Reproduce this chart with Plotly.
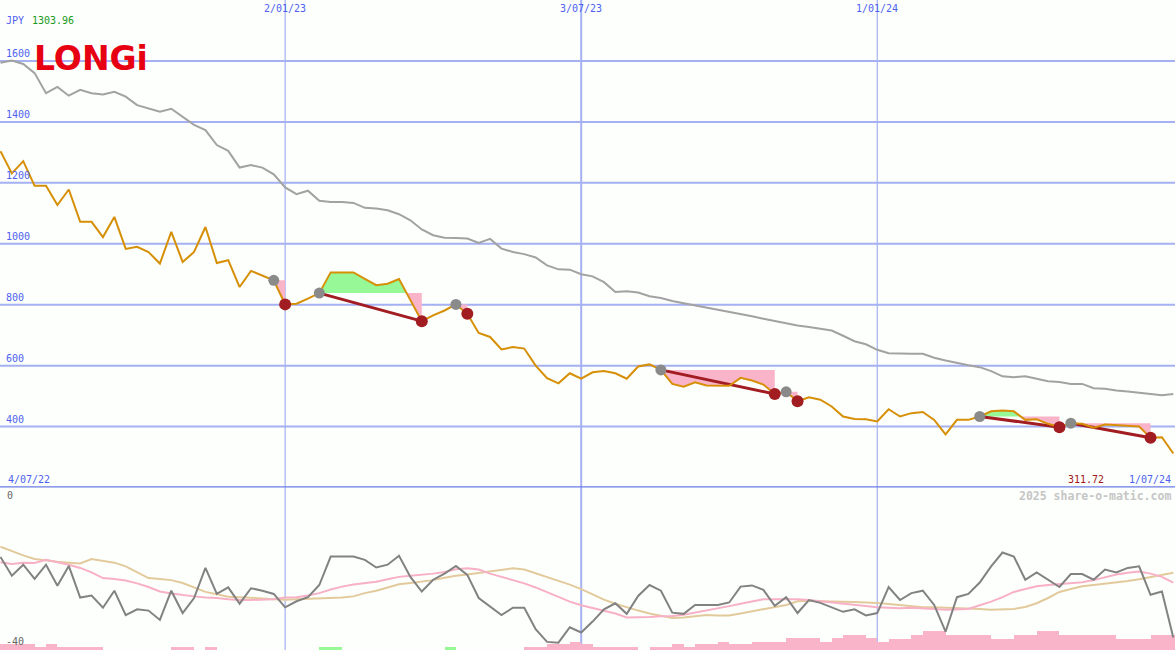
import pandas as pd
import plotly.graph_objects as go

# ---------------- data ----------------
dates = pd.date_range("2022-07-11", periods=104, freq="7D")

price = [1303.96, 1231, 1271, 1190, 1190, 1127, 1178, 1072, 1072, 1022,
         1088, 983, 990, 973, 935, 1039, 940, 973, 1055, 937,
         946, 858, 911, 896, 880, 801, 803, 820, 838, 906,
         906, 906, 885, 864, 869, 884, 815, 746, 765, 781,
         801, 770, 707, 694, 653, 661, 656, 600, 559, 542,
         575, 557, 578, 582, 575, 557, 597, 604, 586, 540,
         531, 545, 535, 535, 534, 560, 551, 538, 507, 514,
         483, 496, 488, 466, 433, 425, 424, 417, 457, 433,
         444, 448, 422, 374, 422, 422, 433, 450, 453, 450,
         422, 424, 409, 398, 411, 409, 396, 407, 405, 403,
         400, 363, 365, 311.72]

ma = [1594, 1601, 1590, 1560, 1494, 1515, 1486, 1505, 1494, 1490,
      1499, 1483, 1455, 1444, 1433, 1443, 1417, 1390, 1373, 1324,
      1305, 1250, 1258, 1250, 1228, 1185, 1163, 1174, 1141, 1137,
      1137, 1134, 1118, 1116, 1110, 1097, 1077, 1047, 1028, 1020,
      1019, 1017, 1003, 1016, 984, 973, 966, 955, 929, 916,
      915, 900, 893, 874, 842, 844, 840, 828, 822, 812,
      805, 798, 790, 785, 778, 771, 762, 754, 746, 738,
      732, 727, 722, 715, 698, 680, 670, 652, 641, 639,
      639, 639, 626, 617, 608, 601, 595, 582, 565, 562,
      565, 557, 549, 546, 540, 540, 526, 524, 518, 515,
      511, 505, 503, 507]

osc = [-17.1, -21.7, -19.0, -22.5, -19.0, -24.2, -19.3, -27.1, -26.6, -29.6,
       -25.4, -31.4, -30.0, -30.3, -32.6, -25.4, -30.9, -27.2, -19.8, -26.2,
       -24.6, -28.6, -24.8, -25.4, -26.2, -29.5, -28.0, -27.0, -24.0, -17.0,
       -17.0, -17.0, -17.8, -19.7, -19.0, -16.8, -22.0, -25.6, -22.7, -21.2,
       -19.3, -21.5, -27.2, -29.3, -31.4, -29.6, -29.6, -34.9, -38.0, -38.2,
       -34.4, -35.7, -33.0, -30.0, -28.5, -31.1, -26.7, -24.0, -25.4, -30.8,
       -31.1, -28.9, -28.9, -28.9, -28.3, -24.4, -24.1, -25.2, -29.1, -27.0,
       -30.9, -27.7, -28.4, -29.5, -30.6, -30.0, -31.5, -30.9, -24.5, -27.7,
       -26.0, -25.4, -28.9, -35.5, -27.0, -26.2, -23.4, -19.4, -16.0, -17.0,
       -22.7, -20.9, -22.7, -24.5, -21.3, -21.3, -22.7, -20.2, -20.9, -19.8,
       -19.4, -26.4, -25.6, -36.9]

osc_pink = [-18.4, -18.8, -18.5, -18.6, -17.8, -18.4, -19.0, -19.8, -20.9, -22.3,
            -22.5, -22.9, -23.6, -24.5, -25.6, -26.1, -26.5, -26.8, -27.1, -27.2,
            -27.5, -27.7, -27.7, -27.6, -27.5, -27.1, -27.0, -26.6, -26.0, -25.1,
            -24.4, -23.9, -23.6, -23.2, -22.6, -22.0, -21.7, -21.5, -21.2, -20.8,
            -20.1, -19.9, -20.2, -21.2, -22.0, -22.7, -23.6, -24.6, -25.8, -27.0,
            -28.1, -29.0, -29.7, -30.3, -31.0, -32.0, -32.0, -31.9, -31.7, -31.6,
            -31.3, -30.8, -30.3, -29.8, -29.2, -28.6, -28.0, -27.5, -27.5, -27.5,
            -27.5, -27.7, -28.0, -28.3, -28.6, -28.9, -29.2, -29.5, -29.6, -29.7,
            -29.6, -29.7, -29.9, -30.1, -30.0, -29.9, -29.0, -28.1, -27.0, -25.7,
            -25.0, -24.3, -24.0, -23.8, -23.5, -23.3, -22.8, -22.1, -21.4, -21.0,
            -20.7, -21.2, -22.0, -23.4]

osc_tan = [-14.6, -15.7, -16.7, -17.6, -18.0, -18.3, -18.5, -18.7, -17.6, -18.0,
           -18.5, -19.4, -20.9, -22.3, -22.5, -22.8, -23.5, -24.7, -25.7, -26.3,
           -26.9, -27.0, -27.1, -27.3, -27.5, -27.6, -27.5, -27.4, -27.3, -27.2,
           -27.1, -26.8, -26.0, -25.4, -24.6, -23.8, -23.5, -23.2, -22.8, -22.2,
           -21.7, -21.4, -21.0, -20.6, -20.2, -19.9, -20.2, -21.1, -22.1, -22.9,
           -23.9, -25.0, -26.4, -27.6, -28.6, -29.5, -30.3, -31.0, -31.6, -32.1,
           -32.0, -31.7, -31.4, -31.5, -31.5, -31.0, -30.5, -29.9, -29.4, -28.9,
           -28.0, -27.9, -28.0, -28.0, -28.1, -28.2, -28.3, -28.4, -28.7, -29.0,
           -29.3, -29.5, -29.5, -29.6, -29.6, -29.7, -29.9, -30.1, -30.0, -29.9,
           -29.4, -28.5, -27.2, -25.7, -25.0, -24.3, -24.0, -23.7, -23.3, -23.0,
           -22.6, -22.1, -21.5, -21.0]

# signed histogram: positive = pink bar, negative = green bar
hist = [1.5, 1.5, 1.5, 0.74, 1.5, 0.74, 0.74, 0.74, 0.74, 0,
        0, 0, 0, 0, 0, 0.74, 0.74, 0, 0.74, 0,
        0, 0, 0, 0, 0, 0, 0, 0, -0.74, -0.74,
        0, 0, 0, 0, 0, 0, 0, 0, 0, -0.74,
        0, 0, 0, 0, 0, 0, 0.74, 0.74, 1.5, 1.5,
        2.2, 1.5, 0.74, 0.74, 0.74, 0.74, 0, 0.74, 0.74, 1.5,
        0.74, 1.5, 1.5, 2.2, 1.5, 1.5, 2.2, 2.2, 2.2, 3.0,
        3.0, 3.0, 2.2, 3.0, 3.7, 3.7, 3.0, 2.2, 2.9, 2.9,
        3.7, 4.7, 4.7, 3.7, 3.7, 3.7, 3.7, 2.9, 2.9, 3.7,
        3.7, 4.7, 4.7, 3.7, 3.7, 3.7, 3.7, 3.7, 2.9, 2.9,
        2.9, 3.7, 3.7, 3.7]

sig_start = [24, 28, 40, 58, 69, 86, 94]
sig_end = [25, 37, 41, 68, 70, 93, 101]

y_ticks = [400, 600, 800, 1000, 1200, 1400, 1600]
x_ticks = ["2023-01-02", "2023-07-03", "2024-01-01"]
x_tick_labels = ["2/01/23", "3/07/23", "1/01/24"]
start_label, end_label = "4/07/22", "1/07/24"
currency, first_price_label, last_price_label = "JPY", "1303.96", "311.72"
osc_labels = ["0", "-40"]

# ---------------- style ----------------
BG = "#fcfffc"
GRID = "#a5b1f2"
SEP = "#6c7ce6"
BLUE = "#4f5ff0"
ORANGE = "#d68f06"
GRAYLINE = "#a2a2a2"
PINK = "#fab4c9"
GREEN = "#96f896"
DARKRED = "#a21d22"
MONO = "DejaVu Sans Mono"
W, H = 1175, 650
TOP_DOM = [0.25, 1.0]
BOT_DOM = [0.0, 0.25]

fig = go.Figure()

def line_trace(x, y, color, width, yaxis="y"):
    return go.Scatter(x=x, y=y, mode="lines", line=dict(color=color, width=width),
                      yaxis=yaxis, hoverinfo="skip", showlegend=False)

# ----- signal fills (between price and level at the signal start) -----
for s, e in zip(sig_start, sig_end):
    L = price[s]
    xs, ys = [], []
    for w in range(s, e + 1):
        if w > s:
            p0, p1 = price[w - 1], price[w]
            if (p0 - L) * (p1 - L) < 0:
                t = (L - p0) / (p1 - p0)
                xs.append(dates[w - 1] + (dates[w] - dates[w - 1]) * t)
                ys.append(L)
        xs.append(dates[w])
        ys.append(price[w])
    up = [max(v, L) for v in ys]
    dn = [min(v, L) for v in ys]
    lvl = [L] * len(xs)
    fig.add_trace(go.Scatter(x=xs, y=lvl, mode="lines", line=dict(width=0),
                             hoverinfo="skip", showlegend=False))
    fig.add_trace(go.Scatter(x=xs, y=up, mode="lines", line=dict(width=0),
                             fill="tonexty", fillcolor=GREEN, hoverinfo="skip", showlegend=False))
    fig.add_trace(go.Scatter(x=xs, y=lvl, mode="lines", line=dict(width=0),
                             hoverinfo="skip", showlegend=False))
    fig.add_trace(go.Scatter(x=xs, y=dn, mode="lines", line=dict(width=0),
                             fill="tonexty", fillcolor=PINK, hoverinfo="skip", showlegend=False))

# ----- moving average -----
fig.add_trace(line_trace(dates, ma, GRAYLINE, 2))

# ----- signal trend lines (multi-week signals) -----
for s, e in zip(sig_start, sig_end):
    if e - s > 1:
        fig.add_trace(line_trace([dates[s], dates[e]], [price[s], price[e]], DARKRED, 3))

# ----- price -----
fig.add_trace(line_trace(dates, price, ORANGE, 2))

# ----- markers -----
fig.add_trace(go.Scatter(x=[dates[s] for s in sig_start], y=[price[s] for s in sig_start],
                         mode="markers", marker=dict(color="#8a8a8a", size=11),
                         hoverinfo="skip", showlegend=False))
fig.add_trace(go.Scatter(x=[dates[e] for e in sig_end], y=[price[e] for e in sig_end],
                         mode="markers", marker=dict(color=DARKRED, size=12),
                         hoverinfo="skip", showlegend=False))

# ----- lower panel -----
bar_heights = [abs(v) for v in hist]
bar_colors = [PINK if v >= 0 else GREEN for v in hist]
fig.add_trace(go.Bar(x=dates, y=bar_heights, base=-40, yaxis="y2",
                     width=7 * 86400000, offset=0,
                     marker=dict(color=bar_colors, line=dict(width=0)),
                     hoverinfo="skip", showlegend=False))
fig.add_trace(line_trace(dates, osc_tan, "#e3ca9c", 2, "y2"))
fig.add_trace(line_trace(dates, osc_pink, "#f8b0c6", 2, "y2"))
fig.add_trace(line_trace(dates, osc, "#828282", 2, "y2"))

# ----- grid shapes -----
shapes = []
for v in y_ticks:
    shapes.append(dict(type="line", xref="paper", x0=0, x1=1, yref="y", y0=v, y1=v,
                       line=dict(color=GRID, width=2), layer="below"))
vwidths = [1.2, 2, 1.2]
for d, lw in zip(x_ticks, vwidths):
    shapes.append(dict(type="line", xref="x", x0=d, x1=d, yref="paper", y0=0, y1=1,
                       line=dict(color=GRID, width=lw), layer="below"))
shapes.append(dict(type="line", xref="paper", x0=0, x1=1, yref="y", y0=200, y1=200,
                   line=dict(color=SEP, width=2.5), layer="below"))

# ----- annotations -----
def P(x, y):
    return x / W, 1 - y / H

ann = []
def add_text(text, x, y, color, size=10, xanchor="left", yanchor="middle", family=MONO, bold=False):
    px, py = P(x, y)
    ann.append(dict(text=("<b>%s</b>" % text) if bold else text, x=px, y=py, xref="paper", yref="paper",
                    xanchor=xanchor, yanchor=yanchor, showarrow=False,
                    font=dict(family=family, size=size, color=color)))

add_text(currency, 4, 20, BLUE)
add_text(first_price_label, 30, 20, "#1a9a1a")
for v in y_ticks:
    ann.append(dict(text=str(v), x=4 / W, y=v, xref="paper", yref="y", xanchor="left",
                    yanchor="bottom", showarrow=False, font=dict(family=MONO, size=10, color=BLUE)))
for d, lab in zip(x_ticks, x_tick_labels):
    ann.append(dict(text=lab, x=d, y=1 - 9 / H, xref="x", yref="paper", xanchor="center",
                    yanchor="middle", showarrow=False, font=dict(family=MONO, size=10, color=BLUE)))
add_text(start_label, 6, 479, BLUE)
add_text(end_label, 1173, 479, BLUE, xanchor="right")
add_text(last_price_label, 1066, 479, "#a01818")
add_text("2025 share-o-matic.com", 1173, 496, "#c6c6c6", size=11.5, xanchor="right", bold=True)
add_text(osc_labels[0], 5, 495, "#666666")
add_text(osc_labels[1], 4, 641, "#666666")
add_text("LONGi", 32, 59, "#e60012", size=33, family="DejaVu Sans", bold=True)

fig.update_layout(
    width=W, height=H, margin=dict(l=0, r=0, t=0, b=0),
    paper_bgcolor=BG, plot_bgcolor=BG, showlegend=False,
    xaxis=dict(range=["2022-07-10 17:00", "2024-07-02 01:00"], showgrid=False, zeroline=False,
               showticklabels=False, showline=False, fixedrange=True),
    yaxis=dict(domain=TOP_DOM, range=[200, 1800], showgrid=False, zeroline=False,
               showticklabels=False, fixedrange=True),
    yaxis2=dict(domain=BOT_DOM, range=[-40, 0], showgrid=False, zeroline=False,
                showticklabels=False, anchor="x", fixedrange=True),
    shapes=shapes, annotations=ann, bargap=0,
)

fig.write_html("out.html", config={"displayModeBar": False},
               post_script="document.body.style.margin='0';document.body.style.overflow='hidden';")
